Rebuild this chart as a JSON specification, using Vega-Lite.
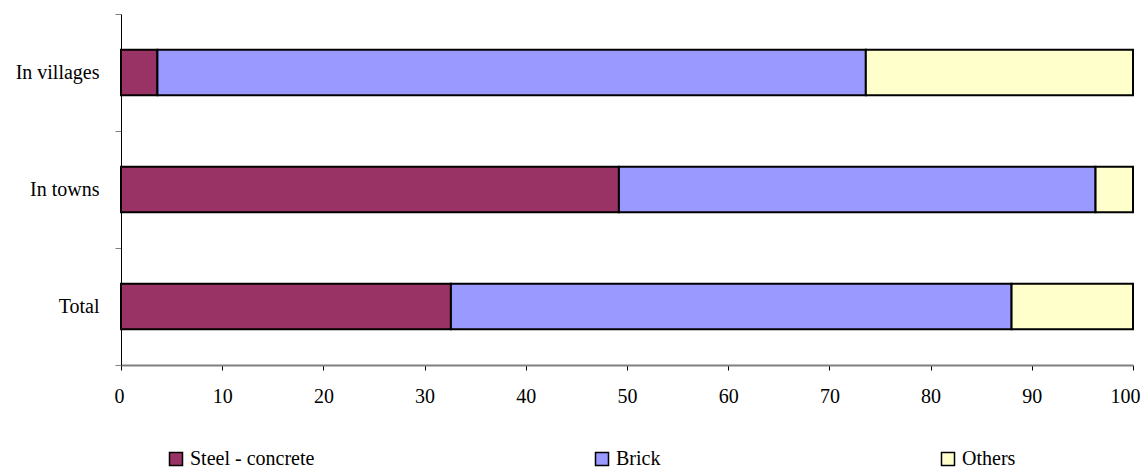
{
  "$schema": "https://vega.github.io/schema/vega-lite/v6.json",
  "autosize": {"type": "none"},
  "padding": {"left": 121, "top": 14, "right": 8, "bottom": 103},
  "width": 1012,
  "height": 351,
  "background": "white",
  "config": {"view": {"stroke": null}, "font": "Liberation Serif"},
  "data": {
    "values": [
      {"area": "In villages", "material": "Steel - concrete", "share": 3.6},
      {"area": "In villages", "material": "Brick", "share": 70.0},
      {"area": "In villages", "material": "Others", "share": 26.4},
      {"area": "In towns", "material": "Steel - concrete", "share": 49.2},
      {"area": "In towns", "material": "Brick", "share": 47.1},
      {"area": "In towns", "material": "Others", "share": 3.7},
      {"area": "Total", "material": "Steel - concrete", "share": 32.6},
      {"area": "Total", "material": "Brick", "share": 55.4},
      {"area": "Total", "material": "Others", "share": 12.0}
    ]
  },
  "transform": [
    {"window": [{"op": "row_number", "as": "rowOrder"}]}
  ],
  "mark": {"type": "bar", "stroke": "black", "strokeWidth": 2, "opacity": 1, "height": {"band": 0.39}},
  "encoding": {
    "y": {
      "field": "area",
      "type": "nominal",
      "sort": ["In villages", "In towns", "Total"],
      "scale": {"paddingInner": 0, "paddingOuter": 0},
      "axis": {
        "title": null,
        "tickBand": "extent",
        "domainColor": "black",
        "domainWidth": 1,
        "tickColor": "#808080",
        "tickSize": 6,
        "labelPadding": 16,
        "labelFontSize": 20,
        "labelFont": "Liberation Serif",
        "labelColor": "black"
      }
    },
    "x": {
      "field": "share",
      "type": "quantitative",
      "stack": "zero",
      "scale": {"domain": [0, 100], "nice": false},
      "axis": {
        "title": null,
        "values": [0, 10, 20, 30, 40, 50, 60, 70, 80, 90, 100],
        "grid": false,
        "labelFlush": true,
        "labelFlushOffset": 7,
        "domainColor": "#808080",
        "domainWidth": 2,
        "tickColor": "black",
        "tickSize": 5,
        "labelPadding": 16,
        "labelFontSize": 20,
        "labelFont": "Liberation Serif",
        "labelColor": "black"
      }
    },
    "order": {"field": "rowOrder", "type": "quantitative", "sort": "ascending"},
    "color": {
      "field": "material",
      "type": "nominal",
      "sort": ["Steel - concrete", "Brick", "Others"],
      "scale": {
        "domain": ["Steel - concrete", "Brick", "Others"],
        "range": ["#993366", "#9999FF", "#FFFFCC"]
      },
      "legend": {
        "title": null,
        "orient": "none",
        "legendX": 45,
        "legendY": 435,
        "direction": "horizontal",
        "columns": 3,
        "gridAlign": "none",
        "columnPadding": 277,
        "symbolType": "square",
        "symbolSize": 169,
        "symbolStrokeColor": "black",
        "symbolStrokeWidth": 1.5,
        "symbolOpacity": 1,
        "labelFontSize": 20,
        "labelFont": "Liberation Serif",
        "labelColor": "black",
        "labelOffset": 4
      }
    }
  }
}
